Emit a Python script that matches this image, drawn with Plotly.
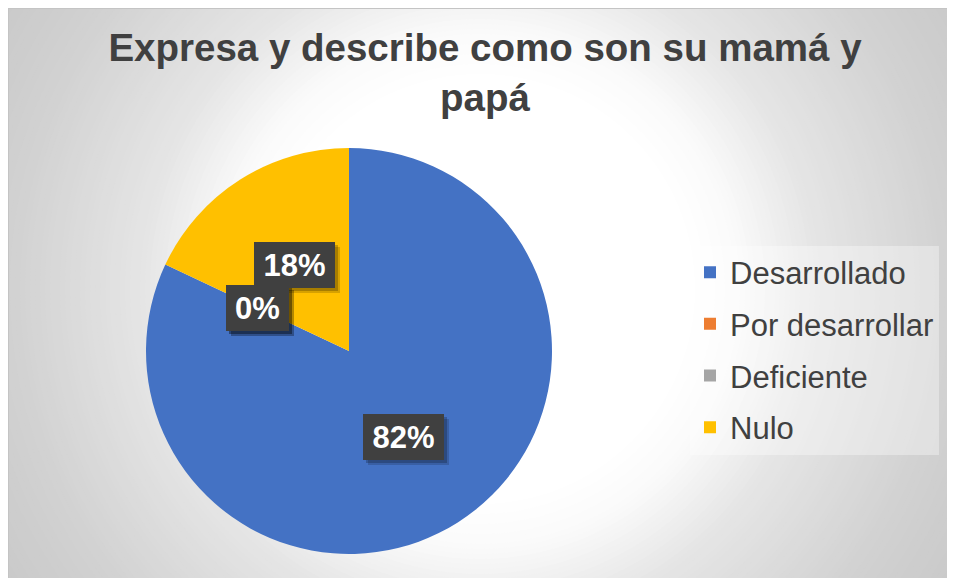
import plotly.graph_objects as go
import math

# ---- data ----
CATEGORIES = ["Desarrollado", "Por desarrollar", "Deficiente", "Nulo"]
VALUES = [82, 0, 0, 18]
COLORS = ["#4472C4", "#ED7D31", "#A5A5A5", "#FFC000"]
TITLE = "Expresa y describe como son su mamá y<br>papá"

# page has an 8px body margin; figure fills the rest of the 955x578 window
OFF = 8
W, H = 955 - OFF, 578 - OFF
FONT = "Liberation Sans, Arial, sans-serif"

def px_x(x):  # page pixel -> paper
    return (x - OFF) / W

def px_y(y):
    return 1 - (y - OFF) / H

# pie placement in page pixels
PIE_X = [146, 552]
PIE_Y = [148, 554]
dom_x = [px_x(PIE_X[0]), px_x(PIE_X[1])]
dom_y = [px_y(PIE_Y[1]), px_y(PIE_Y[0])]
cx = (PIE_X[0] + PIE_X[1]) / 2
cy = (PIE_Y[0] + PIE_Y[1]) / 2
r = min(PIE_X[1] - PIE_X[0], PIE_Y[1] - PIE_Y[0]) / 2

fig = go.Figure()
fig.add_trace(go.Pie(
    labels=CATEGORIES, values=VALUES, sort=False, direction="clockwise", rotation=0,
    marker=dict(colors=COLORS, line=dict(width=0)),
    textinfo="none", hoverinfo="label+percent", showlegend=False,
    domain=dict(x=dom_x, y=dom_y),
))
# legend proxies (tiny pies) so entries can be spaced like the original
for lab, col in zip(CATEGORIES, COLORS):
    fig.add_trace(go.Pie(
        labels=[lab], values=[1], marker=dict(colors=[col], line=dict(width=0)),
        textinfo="none", hoverinfo="skip", legendgroup=lab, showlegend=True,
        domain=dict(x=[0.365, 0.3651], y=[0.39, 0.3901]), sort=False,
    ))

# ---- background radial gradient ----
GCX, GCY = 480, 289
stops = [(0, 255), (215, 255), (262, 250), (340, 229), (475, 209), (620, 196)]

def shade(d):
    for (d0, c0), (d1, c1) in zip(stops[:-1], stops[1:]):
        if d <= d1:
            return c0 + (c1 - c0) * (d - d0) / (d1 - d0)
    return stops[-1][1]

shapes = []
R = 620
while R > 210:
    c = int(round(shade(R)))
    shapes.append(dict(type="circle", xref="paper", yref="paper", layer="below",
                       x0=px_x(GCX - R), x1=px_x(GCX + R), y0=px_y(GCY + R), y1=px_y(GCY - R),
                       fillcolor=f"rgb({c},{c},{c})", line=dict(width=0)))
    R -= 5
# chart border (top and left)
shapes.append(dict(type="line", xref="paper", yref="paper", layer="below",
                   x0=0, x1=1, y0=1, y1=1, line=dict(color="#c4c4c4", width=2)))
shapes.append(dict(type="line", xref="paper", yref="paper", layer="below",
                   x0=0, x1=0, y0=0, y1=1, line=dict(color="#c4c4c4", width=2)))

# ---- data labels ----
annotations = []
total = sum(VALUES)
cum = 0
label_specs = []
for v in VALUES:
    frac = v / total
    mid = math.radians((cum + frac / 2) * 360)
    cum += frac
    lx = cx + 0.5 * r * math.sin(mid)
    ly = cy - 0.5 * r * math.cos(mid)
    txt = f"{round(frac * 100)}%"
    label_specs.append((lx, ly, txt))

for lx, ly, txt in label_specs:
    bw = 27 + 18 * len(txt)
    for sh, a in [(5, 0.16), (3, 0.22)]:
        annotations.append(dict(x=px_x(lx), y=px_y(ly), xref="paper", yref="paper",
                                xanchor="center", yanchor="middle",
                                text=" ", showarrow=False, xshift=sh, yshift=-sh,
                                width=bw, height=46, bgcolor=f"rgba(0,0,0,{a})",
                                borderpad=0, borderwidth=0, font=dict(size=31)))
for lx, ly, txt in label_specs:
    bw = 27 + 18 * len(txt)
    annotations.append(dict(x=px_x(lx), y=px_y(ly), xref="paper", yref="paper",
                            xanchor="center", yanchor="middle",
                            text=f"<b>{txt}</b>", showarrow=False,
                            width=bw, height=46, bgcolor="#404040",
                            borderpad=0, borderwidth=0,
                            font=dict(family=FONT, size=31, color="white")))

fig.update_layout(
    width=W, height=H,
    margin=dict(l=0, r=0, t=0, b=0),
    paper_bgcolor="white",
    title=dict(text=f"<b>{TITLE}</b>", x=px_x(485), xanchor="center",
               y=px_y(61), yanchor="top", yref="paper",
               font=dict(family=FONT, size=38.5, color="#404040")),
    legend=dict(x=px_x(690), xanchor="left", y=px_y(350), yanchor="middle",
                font=dict(family=FONT, size=31, color="#404040"),
                bgcolor="rgba(255,255,255,0.35)", traceorder="grouped",
                tracegroupgap=8.4),
    shapes=shapes,
    annotations=annotations,
)

fig.write_html("out.html")
